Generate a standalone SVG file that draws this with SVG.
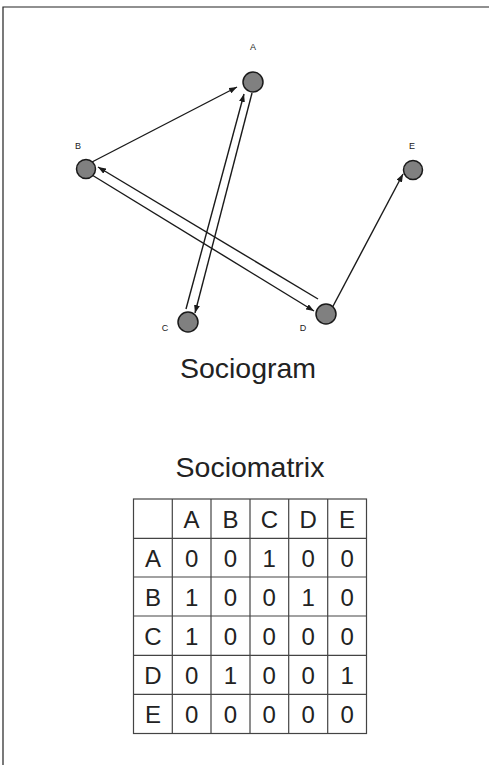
<svg xmlns="http://www.w3.org/2000/svg" width="489" height="765" viewBox="0 0 489 765">
<defs>
<marker id="ah" viewBox="0 0 8 6" refX="8" refY="3" markerWidth="8" markerHeight="6" markerUnits="userSpaceOnUse" orient="auto">
<path d="M0,0 L8,3 L0,6 z" fill="#1a1a1a"/>
</marker>
<style>
.node{fill:#808080;stroke:#1a1a1a;stroke-width:1.5}
.lbl{font-family:"Liberation Sans",Arial,sans-serif;font-size:9px;fill:#222;text-anchor:middle}
.edge{stroke:#1a1a1a;stroke-width:1.4;fill:none;marker-end:url(#ah)}
.title{font-family:"Liberation Sans",Arial,sans-serif;font-size:28.5px;fill:#222;text-anchor:middle}
.cell{font-family:"Liberation Sans",Arial,sans-serif;font-size:24px;fill:#222;text-anchor:middle}
.grid{stroke:#444;stroke-width:1.2;fill:none}
</style>
</defs>
<rect width="489" height="765" fill="#fff"/>
<path d="M3,765 L3,7 L489,7" stroke="#222" stroke-width="1.2" fill="none"/>
<g id="connectors">
<line class="edge" x1="92" y1="162" x2="237" y2="87"/>
<line class="edge" x1="186" y1="309" x2="244" y2="94"/>
<line class="edge" x1="252" y1="93" x2="195" y2="313"/>
<line class="edge" x1="318" y1="299" x2="98" y2="167"/>
<line class="edge" x1="92" y1="175" x2="314" y2="311"/>
<line class="edge" x1="331" y1="310" x2="403" y2="174"/>
</g>
<g id="node-A"><circle class="node" cx="253" cy="82" r="10"/><text class="lbl" x="253" y="50">A</text></g>
<g id="node-B"><circle class="node" cx="86" cy="169" r="9.5"/><text class="lbl" x="78" y="149">B</text></g>
<g id="node-C"><circle class="node" cx="188" cy="322" r="10"/><text class="lbl" x="165" y="331">C</text></g>
<g id="node-D"><circle class="node" cx="326" cy="314" r="10"/><text class="lbl" x="303" y="331">D</text></g>
<g id="node-E"><circle class="node" cx="413" cy="170" r="9.5"/><text class="lbl" x="412" y="149">E</text></g>
<text class="title" x="248" y="378">Sociogram</text>
<text class="title" x="250" y="477">Sociomatrix</text>
<g id="sociomatrix">
<rect class="grid" x="133.5" y="499" width="233" height="234.5"/>
<path class="grid" d="M172.3,499 V733.5 M211,499 V733.5 M250,499 V733.5 M288.7,499 V733.5 M327.7,499 V733.5 M133.5,538.3 H366.5 M133.5,577 H366.5 M133.5,616 H366.5 M133.5,655.3 H366.5 M133.5,694.3 H366.5"/>
<g class="cell">
<text x="191.6" y="527.5">A</text><text x="230.5" y="527.5">B</text><text x="269.3" y="527.5">C</text><text x="308.2" y="527.5">D</text><text x="347.1" y="527.5">E</text>
<text x="152.9" y="566.5">A</text><text x="191.6" y="566.5">0</text><text x="230.5" y="566.5">0</text><text x="269.3" y="566.5">1</text><text x="308.2" y="566.5">0</text><text x="347.1" y="566.5">0</text>
<text x="152.9" y="605.5">B</text><text x="191.6" y="605.5">1</text><text x="230.5" y="605.5">0</text><text x="269.3" y="605.5">0</text><text x="308.2" y="605.5">1</text><text x="347.1" y="605.5">0</text>
<text x="152.9" y="644.5">C</text><text x="191.6" y="644.5">1</text><text x="230.5" y="644.5">0</text><text x="269.3" y="644.5">0</text><text x="308.2" y="644.5">0</text><text x="347.1" y="644.5">0</text>
<text x="152.9" y="683.5">D</text><text x="191.6" y="683.5">0</text><text x="230.5" y="683.5">1</text><text x="269.3" y="683.5">0</text><text x="308.2" y="683.5">0</text><text x="347.1" y="683.5">1</text>
<text x="152.9" y="722.5">E</text><text x="191.6" y="722.5">0</text><text x="230.5" y="722.5">0</text><text x="269.3" y="722.5">0</text><text x="308.2" y="722.5">0</text><text x="347.1" y="722.5">0</text>
</g>
</g>
</svg>
